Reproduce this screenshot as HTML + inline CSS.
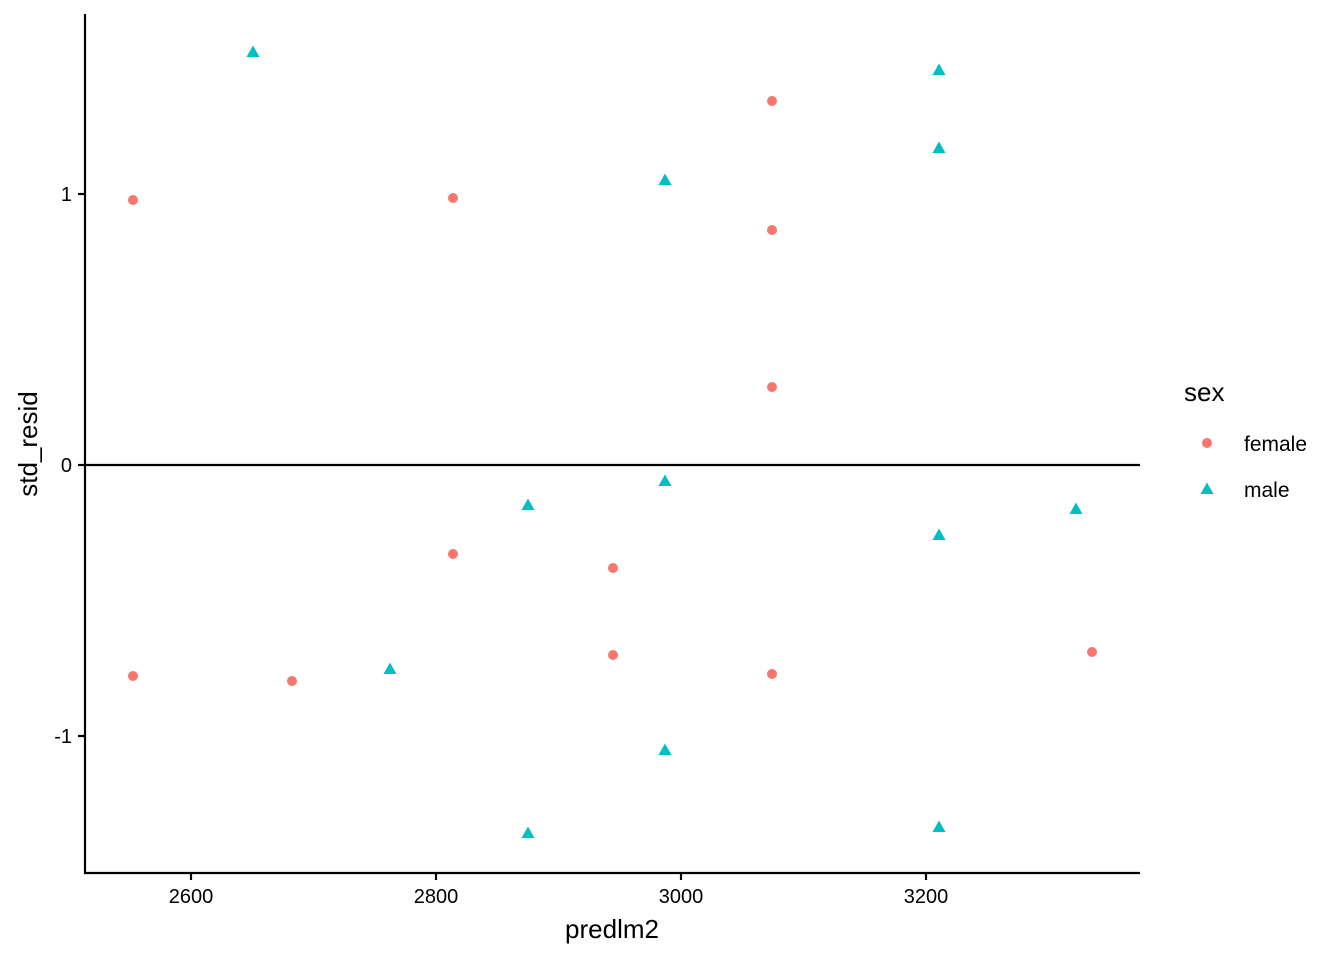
<!DOCTYPE html>
<html><head><meta charset="utf-8"><style>
body{margin:0;background:#fff}
text{font-family:"Liberation Sans",Arial,sans-serif}
</style></head><body>
<svg width="1344" height="960" viewBox="0 0 1344 960" xmlns="http://www.w3.org/2000/svg">
<rect width="1344" height="960" fill="#fff"/>
<line x1="85" y1="465" x2="1140" y2="465" stroke="#000" stroke-width="2.2"/>
<g fill="#F8766D">
<circle cx="133" cy="200" r="5"/><circle cx="453" cy="198" r="5"/><circle cx="772" cy="101" r="5"/>
<circle cx="772" cy="230" r="5"/><circle cx="772" cy="387" r="5"/><circle cx="453" cy="554" r="5"/>
<circle cx="613" cy="568" r="5"/><circle cx="613" cy="655" r="5"/><circle cx="133" cy="676" r="5"/>
<circle cx="292" cy="681" r="5"/><circle cx="772" cy="674" r="5"/><circle cx="1092" cy="652" r="5"/>
</g>
<g fill="#00BFC4">
<path d="M0,-6.5 L6.5,5 L-6.5,5 Z" transform="translate(253,52)"/>
<path d="M0,-6.5 L6.5,5 L-6.5,5 Z" transform="translate(939,70)"/>
<path d="M0,-6.5 L6.5,5 L-6.5,5 Z" transform="translate(939,148)"/>
<path d="M0,-6.5 L6.5,5 L-6.5,5 Z" transform="translate(665,180)"/>
<path d="M0,-6.5 L6.5,5 L-6.5,5 Z" transform="translate(665,481)"/>
<path d="M0,-6.5 L6.5,5 L-6.5,5 Z" transform="translate(528,505)"/>
<path d="M0,-6.5 L6.5,5 L-6.5,5 Z" transform="translate(939,535)"/>
<path d="M0,-6.5 L6.5,5 L-6.5,5 Z" transform="translate(1076,509)"/>
<path d="M0,-6.5 L6.5,5 L-6.5,5 Z" transform="translate(390,669)"/>
<path d="M0,-6.5 L6.5,5 L-6.5,5 Z" transform="translate(665,750)"/>
<path d="M0,-6.5 L6.5,5 L-6.5,5 Z" transform="translate(528,833)"/>
<path d="M0,-6.5 L6.5,5 L-6.5,5 Z" transform="translate(939,827)"/>
</g>
<g stroke="#000" stroke-width="2.2" fill="none">
<line x1="85" y1="14" x2="85" y2="874"/>
<line x1="84" y1="873" x2="1140" y2="873"/>
<line x1="191" y1="873" x2="191" y2="880"/><line x1="436" y1="873" x2="436" y2="880"/>
<line x1="681" y1="873" x2="681" y2="880"/><line x1="926" y1="873" x2="926" y2="880"/>
<line x1="78" y1="194" x2="85" y2="194"/><line x1="78" y1="465" x2="85" y2="465"/><line x1="78" y1="736" x2="85" y2="736"/>
</g>
<g font-size="20" fill="#000">
<text x="191" y="903" text-anchor="middle">2600</text>
<text x="436" y="903" text-anchor="middle">2800</text>
<text x="681" y="903" text-anchor="middle">3000</text>
<text x="926" y="903" text-anchor="middle">3200</text>
<text x="72" y="201" text-anchor="end">1</text>
<text x="72" y="472" text-anchor="end">0</text>
<text x="72" y="743" text-anchor="end">-1</text>
</g>
<text x="612" y="938" font-size="26" text-anchor="middle">predlm2</text>
<text transform="translate(37,444) rotate(-90)" font-size="26" text-anchor="middle">std_resid</text>
<text x="1184" y="401" font-size="26">sex</text>
<circle cx="1207" cy="443" r="5" fill="#F8766D"/>
<path d="M0,-6.5 L6.5,5 L-6.5,5 Z" transform="translate(1207,489)" fill="#00BFC4"/>
<text x="1244" y="451" font-size="21">female</text>
<text x="1244" y="497" font-size="21">male</text>
</svg>
</body></html>
